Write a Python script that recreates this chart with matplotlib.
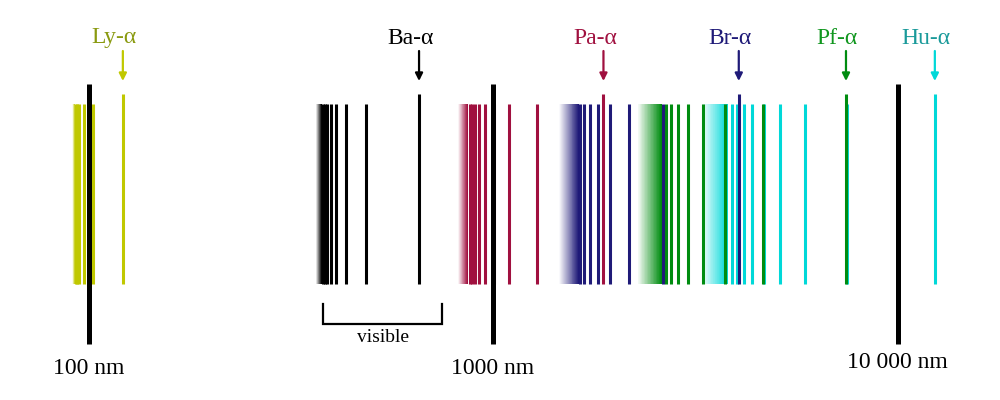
import matplotlib.pyplot as plt
import matplotlib.colors as mcolors
import numpy as np

plt.rcParams['font.family'] = ['Liberation Serif', 'DejaVu Serif']

# hydrogen emission lines in nm, alpha line first
lyman = [121.57, 102.57, 97.25, 94.97, 93.78, 93.07]
balmer = [656.3, 486.1, 434.0, 410.2, 397.0, 388.9, 383.5, 379.8]
paschen = [1875.1, 1281.8, 1093.8, 1004.9, 954.6, 922.9, 901.5, 886.3, 875.0]
brackett = [4051.2, 2625.2, 2165.5, 1944.6, 1817.4, 1736.2, 1680.7, 1640.7]
pfund = [7458.0, 4652.0, 3740.0, 3297.0, 3039.0, 2873.0, 2758.0, 2675.0]
humphreys = [12368.0, 7503.0, 5908.0, 5129.0, 4673.0, 4376.0, 4171.0, 4021.0, 3908.0]

# series limit and where the lines have merged into solid colour
limits = [91.18, 364.6, 820.4, 1458.0, 2279.0, 3282.0]
fade_end = [92.6, 377.0, 865.0, 1630.0, 2610.0, 3800.0]

names = ['Ly-α', 'Ba-α', 'Pa-α', 'Br-α', 'Pf-α', 'Hu-α']
line_colors = ['#c0c800', '#000000', '#a0103f', '#1f1a78', '#008c10', '#00d8d8']
text_colors = ['#8a9a10', '#000000', '#a0103f', '#1f1a78', '#10961e', '#1a9a9a']

decades = [100, 1000, 10000]
decade_labels = ['100 nm', '1000 nm', '10 000 nm']
visible = [380, 750]

series = [lyman, balmer, paschen, brackett, pfund, humphreys]

fig = plt.figure(figsize=(10, 4), dpi=100)
ax = fig.add_axes([0, 0, 1, 1])
ax.set_xscale('log')
ax.set_xlim(60.41, 17922)
ax.set_ylim(400, 0)
ax.axis('off')

# draw long-wavelength series first so shorter ones sit on top
for i in reversed(range(len(series))):
    lines = series[i]
    c = line_colors[i]
    rgb = np.array(mcolors.to_rgb(c))
    # fade from white towards the series colour
    n = 40
    edges = np.geomspace(limits[i], fade_end[i], n + 1)
    for k in range(n):
        t = (k + 1) / n
        shade = 1 - t * (1 - rgb)
        ax.fill_between([edges[k], edges[k + 1] * 1.002], 104, 284, color=shade,
                        linewidth=0, antialiased=False)
    for lam in lines[1:]:
        ax.plot([lam, lam], [104, 284], color=c, lw=2.2, solid_capstyle='butt')
    ax.plot([lines[0], lines[0]], [94, 284], color=c, lw=2.2, solid_capstyle='butt')
    ax.annotate('', xy=(lines[0], 81), xytext=(lines[0], 51),
                arrowprops=dict(arrowstyle='-|>', color=c, lw=1.6, mutation_scale=11,
                                shrinkA=0, shrinkB=0))
    ax.annotate(names[i], xy=(lines[0], 38), xytext=(-6.2, 0), textcoords='offset points',
                ha='center', va='center', fontsize=17, color=text_colors[i])

for lam in decades:
    ax.plot([lam, lam], [84, 344], color='black', lw=3.6, solid_capstyle='butt')
ax.text(decades[0], 369, decade_labels[0], ha='center', va='center', fontsize=17)
ax.text(decades[1], 368, decade_labels[1], ha='center', va='center', fontsize=17)
ax.text(decades[2], 362, decade_labels[2], ha='center', va='center', fontsize=17)

# visible range bracket
ax.plot([visible[0], visible[0], visible[1], visible[1]], [304, 324, 324, 304],
        color='black', lw=1.6, solid_joinstyle='miter')
ax.text(np.sqrt(visible[0] * visible[1]), 337, 'visible', ha='center', va='center',
        fontsize=14)

fig.savefig('out.png', dpi=100)
